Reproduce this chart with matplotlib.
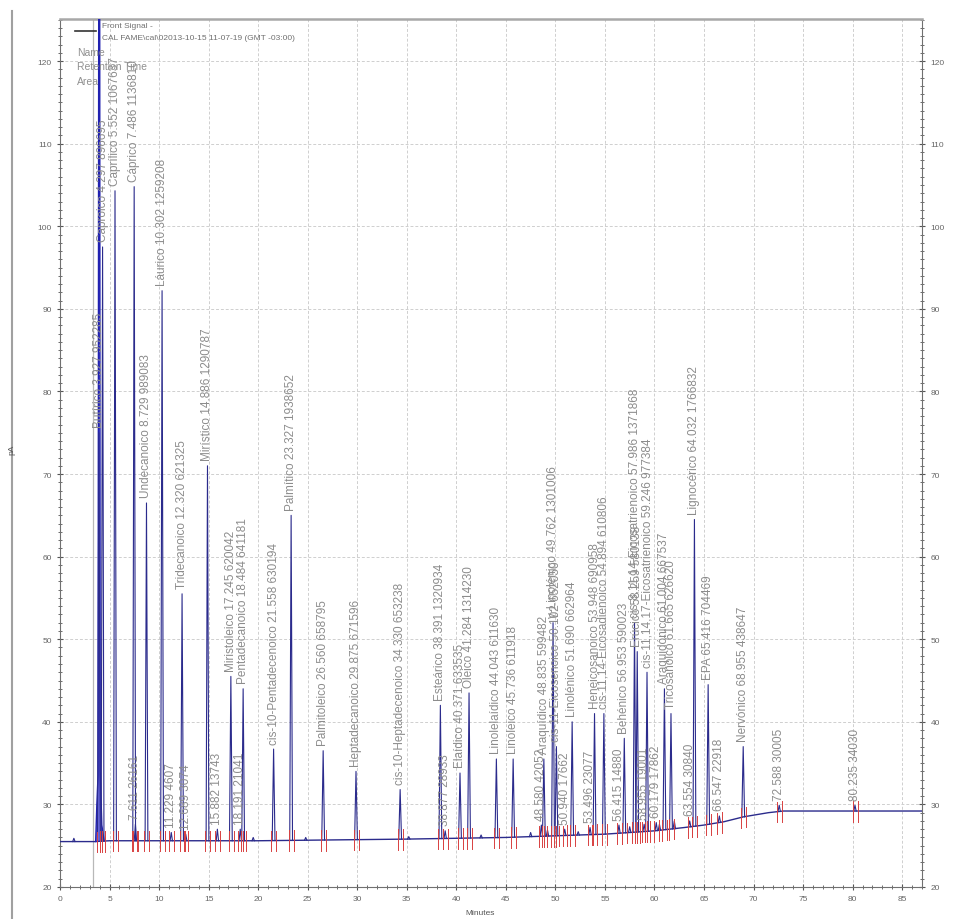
import numpy as np
import matplotlib
matplotlib.use("Agg")
from matplotlib import pyplot as plt
from matplotlib.lines import Line2D
from matplotlib.ticker import MultipleLocator

plt.rcParams['font.family'] = ['Liberation Sans', 'DejaVu Sans']

# detector baseline (minutes, pA)
base_t = [0, 3.5, 5, 20, 35, 40, 45, 50, 55, 60, 63, 65, 67, 69, 71.5, 73, 87]
base_pa = [25.5, 25.5, 25.6, 25.6, 25.8, 25.9, 26.0, 26.2, 26.4, 26.8, 27.2, 27.5, 27.9, 28.5, 29.0, 29.2, 29.2]

# solvent front (goes off scale)
solvent_t = [3.60, 3.72, 3.84, 3.93, 3.99, 4.06, 4.22, 4.45]
solvent_pa = [25.5, 30.0, 33.5, 160.0, 160.0, 34.0, 27.5, 25.6]

# named peaks: name, retention time, area, apex height
peak_names = ["Butírico", "Caproico", "Caprílico", "Cáprico", "Undecanoico", "Láurico",
              "Tridecanoico", "Mirístico", "Miristoleico", "Pentadecanoico",
              "cis-10-Pentadecenoico", "Palmítico", "Palmitoleico", "Heptadecanoico",
              "cis-10-Heptadecenoico", "Esteárico", "Elaídico", "Oleico", "Linolelaídico",
              "Linoleico", "Araquídico", "γ-Linolénico", "cis-11-Eicosenoico", "Linolénico",
              "Heneicosanoico", "cis-11,14-Eicosadienoico", "Behénico",
              "cis-8,11,14-Eicosatrienoico", "Erúcico", "cis-11,14,17-Eicosatrienoico",
              "Araquidónico", "Tricosanoico", "Lignocérico", "EPA", "Nervónico"]
peak_rt = [3.927, 4.297, 5.552, 7.486, 8.729, 10.302,
           12.320, 14.886, 17.245, 18.484,
           21.558, 23.327, 26.560, 29.875,
           34.330, 38.391, 40.371, 41.284, 44.043,
           45.736, 48.835, 49.762, 50.102, 51.690,
           53.948, 54.894, 56.953,
           57.986, 58.259, 59.246,
           61.004, 61.665, 64.032, 65.416, 68.955]
peak_area = [952285, 896695, 1067637, 1136810, 989083, 1259208,
             621325, 1290787, 620042, 641181,
             630194, 1938652, 658795, 671596,
             653238, 1320934, 633535, 1314230, 611630,
             611918, 599482, 1301006, 652050, 662964,
             690958, 610806, 590023,
             1371868, 580138, 977384,
             667537, 626620, 1766832, 704469, 438647]
peak_pa = [75.0, 97.5, 104.3, 104.8, 66.5, 92.2,
           55.5, 71.0, 45.5, 44.0,
           36.7, 65.0, 36.5, 34.0,
           31.8, 42.0, 33.8, 43.5, 35.5,
           35.5, 35.5, 52.0, 37.0, 40.0,
           41.0, 41.0, 38.0,
           52.0, 48.5, 46.0,
           44.0, 41.0, 64.5, 44.5, 37.0]

# small integrated peaks (retention time, area, apex height)
small_rt = [7.611, 11.229, 12.689, 15.882, 18.191, 38.877, 48.580, 50.940, 53.496,
            56.415, 58.955, 60.179, 63.554, 66.547, 72.588, 80.235]
small_area = [26161, 4607, 3074, 13743, 21041, 28933, 42052, 17662, 23077,
              14880, 19001, 17862, 30840, 22918, 30005, 34030]
small_pa = [27.6, 26.6, 26.4, 27.0, 27.0, 26.8, 27.5, 27.0, 27.2,
            27.5, 27.6, 27.8, 28.0, 28.6, 29.9, 29.9]

# unlabeled bumps on the baseline
bump_rt = [1.4, 19.5, 24.8, 35.2, 42.5, 47.5, 49.2, 52.3, 57.5, 60.5, 62.0]
bump_pa = [25.9, 26.0, 26.0, 26.1, 26.3, 26.6, 26.9, 26.7, 27.3, 27.6, 28.0]

trace_col = "#2b2b8c"
label_col = "#8c8c8c"
red = "#d84040"

fig = plt.figure(figsize=(9.58, 9.2), dpi=100)
ax = fig.add_axes([60 / 958, 32 / 920, 862 / 958, 868 / 920])
ax.set_xlim(0, 87)
ax.set_ylim(20, 125.1)

ax.xaxis.set_major_locator(MultipleLocator(5))
ax.xaxis.set_minor_locator(MultipleLocator(1))
ax.yaxis.set_major_locator(MultipleLocator(10))
ax.yaxis.set_minor_locator(MultipleLocator(1))
ax.tick_params(which="both", direction="inout", right=True, labelright=True,
               labelsize=6, labelcolor="#666666", color="#555555")
ax.tick_params(which="major", length=5, width=0.8)
ax.tick_params(which="minor", length=3, width=0.6)
ax.grid(True, which="major", ls=(0, (3, 2)), color="#cfcfcf", lw=0.7)
ax.set_axisbelow(True)
for side in ["left", "right", "bottom"]:
    ax.spines[side].set_color("#707070")
ax.spines["top"].set_color("#a8a8a8")
ax.spines["top"].set_linewidth(1.8)

ax.axvline(3.3, color="#b8b8b8", lw=0.9, zorder=1)

# baseline and solvent
ax.plot(base_t, base_pa, color=trace_col, lw=1.0, zorder=3)
ax.fill(solvent_t, solvent_pa, color="#3030d8", alpha=0.7, lw=0, zorder=3)
ax.plot(solvent_t, solvent_pa, color="#2020b0", lw=1.0, zorder=3)


def draw_peak(rt, top, w=0.14):
    b = np.interp(rt, base_t, base_pa)
    ax.plot([rt - w, rt, rt + w], [b, top, b], color=trace_col, lw=0.8, zorder=4)
    for edge in (rt - 0.22, rt + 0.28):
        eb = np.interp(edge, base_t, base_pa)
        ax.plot([edge, edge], [eb - 1.3, eb + 1.2], color=red, lw=0.7, zorder=5)


for rt, top in zip(bump_rt, bump_pa):
    b = np.interp(rt, base_t, base_pa)
    ax.plot([rt - 0.12, rt, rt + 0.12], [b, top, b], color=trace_col, lw=0.8, zorder=4)

for name, rt, area, top in zip(peak_names, peak_rt, peak_area, peak_pa):
    draw_peak(rt, top)
    ax.annotate(f"{name} {rt:.3f} {area}", (rt, top), xytext=(0, 4),
                textcoords="offset points", rotation=90, ha="center", va="bottom",
                fontsize=8.5, color=label_col, zorder=6, annotation_clip=False)

for rt, area, top in zip(small_rt, small_area, small_pa):
    draw_peak(rt, top, w=0.12)
    ax.annotate(f"{rt:.3f} {area}", (rt, top), xytext=(0, 4),
                textcoords="offset points", rotation=90, ha="center", va="bottom",
                fontsize=8.5, color=label_col, zorder=6)

# legend block in the upper left corner
fig.add_artist(Line2D([75 / 958, 96 / 958], [1 - 32 / 920] * 2, color="#333333", lw=1.2))
fig.text(102 / 958, 1 - 27 / 920, "Front Signal -", fontsize=6, va="center", color="#707070")
fig.text(102 / 958, 1 - 39 / 920, "CAL FAME\\cal\\02013-10-15 11-07-19 (GMT -03:00)",
         fontsize=6, va="center", color="#707070")
fig.text(77 / 958, 1 - 53 / 920, "Name", fontsize=7.5, va="center", color="#909090")
fig.text(77 / 958, 1 - 67 / 920, "Retention Time", fontsize=7.5, va="center", color="#909090")
fig.text(77 / 958, 1 - 82 / 920, "Area", fontsize=7.5, va="center", color="#909090")

fig.text(8 / 958, 1 - 450 / 920, "pA", rotation=90, fontsize=6, va="center", color="#555555")
fig.text(480 / 958, 1 - 914 / 920, "Minutes", ha="center", va="center", fontsize=6, color="#555555")
fig.add_artist(Line2D([12 / 958, 12 / 958], [0, 1 - 12 / 920], color="#a0a0a0", lw=1.5))

fig.savefig("out.png", dpi=100)
